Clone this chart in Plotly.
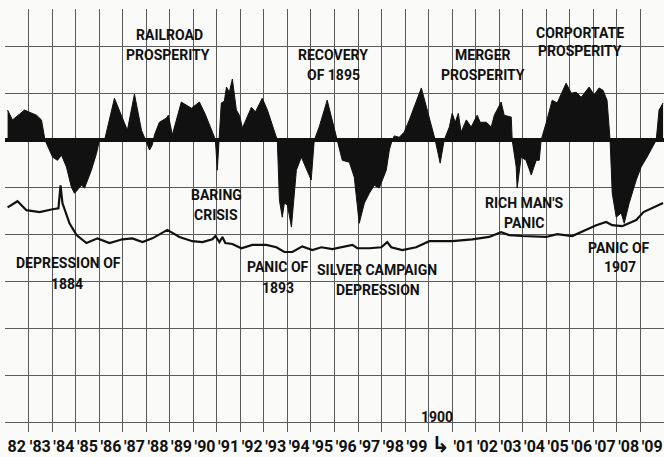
import plotly.graph_objects as go

# ---- business activity (deviation from normal, grid units) ----
act_year = [1882.11, 1882.32, 1882.83, 1883.34, 1883.55, 1883.70, 1884.02, 1884.23, 1884.40,
            1884.61, 1884.82, 1884.95, 1885.08, 1885.25, 1885.38, 1885.46, 1885.67, 1885.89,
            1886.01, 1886.23, 1886.65, 1887.20, 1887.50, 1887.80, 1887.92, 1888.01, 1888.14,
            1888.26, 1888.35, 1888.56, 1888.86, 1888.94, 1889.11, 1889.49, 1889.92, 1890.26,
            1890.51, 1890.90, 1890.94, 1891.02, 1891.11, 1891.19, 1891.32, 1891.41, 1891.53,
            1891.66, 1891.83, 1891.96, 1892.09, 1892.30, 1892.47, 1892.64, 1892.93, 1893.15,
            1893.53, 1893.57, 1893.66, 1893.78, 1893.87, 1894.00, 1894.17, 1894.38, 1894.59,
            1894.85, 1895.01, 1895.14, 1895.35, 1895.69, 1896.12, 1896.33, 1896.63, 1896.84,
            1897.05, 1897.27, 1897.48, 1897.69, 1897.90, 1898.20, 1898.33, 1898.45, 1898.54,
            1898.75, 1898.96, 1899.18, 1899.69, 1900.15, 1900.28, 1900.49, 1900.66, 1900.88,
            1901.00, 1901.13, 1901.26, 1901.38, 1901.60, 1901.81, 1902.06, 1902.19, 1902.45,
            1902.66, 1902.79, 1903.08, 1903.21, 1903.51, 1903.55, 1903.72, 1903.76, 1903.93,
            1904.14, 1904.36, 1904.57, 1904.70, 1904.78, 1904.99, 1905.25, 1905.46, 1905.84,
            1906.06, 1906.27, 1906.48, 1906.82, 1907.03, 1907.24, 1907.41, 1907.58, 1907.71,
            1907.80, 1907.97, 1908.18, 1908.31, 1908.52, 1908.82, 1909.03, 1909.28, 1909.50,
            1909.67, 1909.79, 1909.96]
act_value = [0.64, 0.43, 0.64, 0.53, 0.43, 0.0, -0.36, -0.43, -0.32,
             -0.57, -1.0, -1.13, -1.06, -0.96, -1.02, -0.91, -0.64, -0.28,
             0.0, 0.0, 0.89, 0.21, 0.98, 0.21, 0.06, -0.06, -0.21,
             -0.10, 0.11, 0.38, 0.47, 0.53, 0.11, 0.81, 0.68, 0.81,
             0.55, 0.06, 0.0, -0.64, 0.0, 0.79, 0.83, 1.13, 1.02,
             1.30, 0.64, 0.53, 0.26, 0.49, 0.70, 0.60, 0.89, 0.64,
             0.06, 0.0, -1.28, -1.64, -1.34, -1.38, -1.85, -0.64, -0.36,
             -0.64, -0.85, 0.0, 0.28, 0.85, 0.0, -0.43, -0.47, -0.79,
             -1.77, -1.34, -1.13, -0.96, -1.02, -0.64, -0.21, 0.0, 0.09,
             0.06, 0.17, 0.43, 1.11, 0.28, 0.0, -0.49, 0.0, 0.28,
             0.57, 0.38, 0.57, 0.17, 0.43, 0.28, 0.53, 0.38, 0.38,
             0.28, 0.53, 0.81, 0.53, 0.49, 0.0, -0.57, -1.02, -0.36,
             -0.43, -0.74, -0.43, -0.43, 0.0, 0.36, 0.85, 0.79, 1.21,
             1.0, 1.02, 0.91, 1.13, 0.96, 1.11, 1.06, 0.85, 0.0,
             -1.13, -1.64, -1.55, -1.77, -1.34, -0.85, -0.57, -0.36, -0.15,
             0.0, 0.64, 0.79]

# ---- lower line series ----
line_year = [1882.11, 1882.53, 1882.91, 1883.47, 1884.02, 1884.27, 1884.36, 1884.44, 1884.74,
             1885.04, 1885.46, 1885.93, 1886.44, 1886.99, 1887.41, 1887.84, 1888.26, 1888.90,
             1889.41, 1889.96, 1890.39, 1890.81, 1890.94, 1891.11, 1891.24, 1891.36, 1891.66,
             1892.04, 1892.51, 1893.10, 1893.53, 1893.87, 1894.21, 1894.63, 1895.06, 1895.44,
             1895.91, 1896.76, 1896.97, 1897.48, 1897.99, 1898.24, 1898.41, 1898.88, 1899.47,
             1900.03, 1901.00, 1901.85, 1902.57, 1903.08, 1903.42, 1903.97, 1904.99, 1905.46,
             1906.10, 1906.69, 1907.12, 1907.54, 1907.80, 1908.22, 1908.82, 1909.13, 1909.79,
             1909.96]
line_value = [-1.43, -1.30, -1.49, -1.53, -1.47, -1.45, -0.96, -1.34, -1.77,
              -2.02, -2.19, -2.09, -2.19, -2.11, -2.09, -2.17, -2.09, -1.91,
              -2.06, -2.15, -2.17, -2.11, -2.04, -2.17, -2.06, -2.19, -2.21,
              -2.30, -2.23, -2.23, -2.28, -2.38, -2.38, -2.26, -2.34, -2.28,
              -2.32, -2.23, -2.30, -2.30, -2.28, -2.17, -2.28, -2.34, -2.28,
              -2.15, -2.15, -2.11, -2.06, -1.96, -2.02, -2.04, -2.06, -2.00,
              -2.04, -1.91, -1.81, -1.74, -1.81, -1.83, -1.70, -1.53, -1.38,
              -1.34]

# ---- axis labels ----
years = list(range(1882, 1910))
year_labels = ["82", "′83", "′84", "′85", "′86", "′87", "′88", "′89", "′90", "′91",
               "′92", "′93", "′94", "′95", "′96", "′97", "′98", "′99",
               "<span style='font-size:22px'>↳</span>", "′01",
               "′02", "′03", "′04", "′05", "′06", "′07", "′08", "′09"]

FONT = "Roboto, DejaVu Sans, sans-serif"
INK = "#111111"
GRID = "#5a5a5a"

fig = go.Figure()
fig.add_trace(go.Scatter(x=act_year, y=act_value, mode="lines", fill="tozeroy",
                         fillcolor=INK, line=dict(color=INK, width=1),
                         hoverinfo="skip", showlegend=False))
fig.add_trace(go.Scatter(x=line_year, y=line_value, mode="lines",
                         line=dict(color=INK, width=2.2),
                         hoverinfo="skip", showlegend=False))

notes = [
    ("RAILROAD", 1888.99, 2.23), ("PROSPERITY", 1888.94, 1.81),
    ("RECOVERY", 1895.95, 1.81), ("OF 1895", 1895.95, 1.38),
    ("MERGER", 1902.32, 1.81), ("PROSPERITY", 1902.32, 1.38),
    ("CORPORTATE", 1906.44, 2.28), ("PROSPERITY", 1906.44, 1.89),
    ("BARING", 1890.98, -1.17), ("CRISIS", 1890.98, -1.60),
    ("DEPRESSION OF", 1884.70, -2.62), ("1884", 1884.65, -3.06),
    ("PANIC OF", 1893.61, -2.70), ("1893", 1893.61, -3.15),
    ("SILVER CAMPAIGN", 1897.82, -2.77), ("DEPRESSION", 1897.86, -3.19),
    ("RICH MAN'S", 1904.06, -1.34), ("PANIC", 1904.06, -1.77),
    ("PANIC OF", 1908.09, -2.30), ("1907", 1908.13, -2.70),
    ("1900", 1900.37, -5.89),
]
for txt, xx, yy in notes:
    fig.add_annotation(x=xx, y=yy, xref="x", yref="y", text=txt, showarrow=False,
                       xanchor="center", yanchor="middle",
                       font=dict(family=FONT, size=14, color=INK, weight="bold"))

fig.update_layout(
    width=664, height=457,
    margin=dict(l=5, r=0, t=9, b=25),
    paper_bgcolor="#fafaf8", plot_bgcolor="#fafaf8",
    xaxis=dict(range=[1882, 1910], tickvals=[y + 0.5 for y in years], ticktext=year_labels,
               tickangle=0, automargin=False, ticklabelstandoff=3,
               showgrid=False, zeroline=False, ticks="", showline=False,
               tickfont=dict(family=FONT, size=16, color=INK, weight="bold"),
               minor=dict(tick0=1883, dtick=1, showgrid=True, gridcolor=GRID, gridwidth=1.3)),
    yaxis=dict(range=[-6.21, 2.79], tick0=0, dtick=1, showgrid=True, gridcolor=GRID,
               gridwidth=1.3, showticklabels=False, ticks="", showline=False,
               automargin=False,
               zeroline=True, zerolinecolor=INK, zerolinewidth=4),
)

fig.write_html("out.html", config={"displayModeBar": False},
               post_script="document.body.style.margin='0';")
